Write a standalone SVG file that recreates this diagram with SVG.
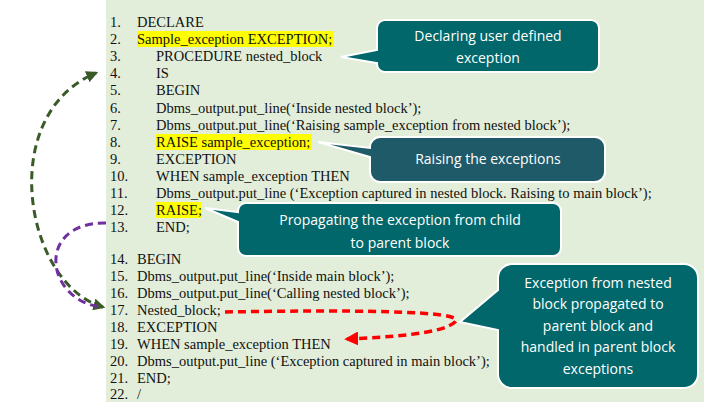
<svg xmlns="http://www.w3.org/2000/svg" width="704" height="402" viewBox="0 0 704 402">
<defs>
<style>
.c{font-family:"Liberation Serif",serif;font-size:14.5px;fill:#111}
.t{font-family:"Open Sans","Liberation Sans",sans-serif;font-size:14px;fill:#fff;text-anchor:middle}
.hl{fill:#ffff00}
.bub{stroke:#fff;stroke-width:2}
</style>
<marker id="ag" viewBox="0 0 10 10" refX="8" refY="5" markerWidth="4" markerHeight="4" orient="auto-start-reverse"><path d="M0,0L10,5L0,10z" fill="#3a5a28"/></marker>
<marker id="ap" viewBox="0 0 10 10" refX="8" refY="5" markerWidth="4" markerHeight="4" orient="auto"><path d="M0,0L10,5L0,10z" fill="#7030a0"/></marker>
<marker id="ar" viewBox="0 0 10 10" refX="8" refY="5" markerWidth="4" markerHeight="4" orient="auto"><path d="M0,0L10,5L0,10z" fill="#ff0000"/></marker>
</defs>
<rect width="704" height="402" fill="#fff"/>
<rect x="106" y="0" width="598" height="402" fill="#e2eed9"/>
<rect class="hl" x="137" y="31" width="197" height="16"/>
<rect class="hl" x="156" y="134" width="156" height="16"/>
<rect class="hl" x="156" y="202" width="45" height="16"/>
<g id="code" class="c">
<text x="110" y="27">1.</text><text x="137" y="27">DECLARE</text>
<text x="110" y="44">2.</text><text x="137" y="44">Sample_exception EXCEPTION;</text>
<text x="110" y="61">3.</text><text x="156" y="61">PROCEDURE nested_block</text>
<text x="110" y="78">4.</text><text x="156" y="78">IS</text>
<text x="110" y="95">5.</text><text x="156" y="95">BEGIN</text>
<text x="110" y="113">6.</text><text x="156" y="113">Dbms_output.put_line(‘Inside nested block’);</text>
<text x="110" y="130">7.</text><text x="156" y="130">Dbms_output.put_line(‘Raising sample_exception from nested block’);</text>
<text x="110" y="147">8.</text><text x="156" y="147">RAISE sample_exception;</text>
<text x="110" y="164">9.</text><text x="156" y="164">EXCEPTION</text>
<text x="110" y="181">10.</text><text x="156" y="181">WHEN sample_exception THEN</text>
<text x="110" y="198">11.</text><text x="156" y="198">Dbms_output.put_line (‘Exception captured in nested block. Raising to main block’);</text>
<text x="110" y="215">12.</text><text x="156" y="215">RAISE;</text>
<text x="110" y="232">13.</text><text x="156" y="232">END;</text>
<text x="110" y="264">14.</text><text x="137" y="264">BEGIN</text>
<text x="110" y="281">15.</text><text x="137" y="281">Dbms_output.put_line(‘Inside main block’);</text>
<text x="110" y="298">16.</text><text x="137" y="298">Dbms_output.put_line(‘Calling nested block’);</text>
<text x="110" y="315">17.</text><text x="137" y="315">Nested_block;</text>
<text x="110" y="332">18.</text><text x="137" y="332">EXCEPTION</text>
<text x="110" y="349">19.</text><text x="137" y="349">WHEN sample_exception THEN</text>
<text x="110" y="366">20.</text><text x="137" y="366">Dbms_output.put_line (‘Exception captured in main block’);</text>
<text x="110" y="383">21.</text><text x="137" y="383">END;</text>
<text x="110" y="399">22.</text><text x="137" y="399">/</text>
</g>
<g id="callout1">
<path class="bub" fill="#02676a" d="M385,20H591a8,8 0 0 1 8,8V64a8,8 0 0 1-8,8H385a8,8 0 0 1-8-8V63L341,57L377,50V28a8,8 0 0 1 8-8z"/>
<text class="t" x="488" y="41">Declaring user defined</text>
<text class="t" x="488" y="63">exception</text>
</g>
<g id="callout2">
<path class="bub" fill="#1f5a68" d="M380,137H595a10,10 0 0 1 10,10V172a10,10 0 0 1-10,10H380a10,10 0 0 1-10-10V157L318,142L370,148V147a10,10 0 0 1 10-10z"/>
<text class="t" x="488" y="164">Raising the exceptions</text>
</g>
<g id="callout3">
<path class="bub" fill="#02676a" d="M246,203H553a8,8 0 0 1 8,8V248a8,8 0 0 1-8,8H246a8,8 0 0 1-8-8V222L205,208L238,212V211a8,8 0 0 1 8-8z"/>
<text class="t" x="400" y="225">Propagating the exception from child</text>
<text class="t" x="400" y="248">to parent block</text>
</g>
<g id="callout4">
<path class="bub" fill="#02676a" d="M512,264H684a14,14 0 0 1 14,14V374a14,14 0 0 1-14,14H512a14,14 0 0 1-14-14V330L460,322L498,290V278a14,14 0 0 1 14-14z"/>
<text class="t" x="598" y="288">Exception from nested</text>
<text class="t" x="598" y="309">block propagated to</text>
<text class="t" x="598" y="331">parent block and</text>
<text class="t" x="598" y="352">handled in parent block</text>
<text class="t" x="598" y="374">exceptions</text>
</g>
<g id="connectors" fill="none" stroke-dasharray="8,5">
<path d="M103,307C25,285 -5,115 96,73" stroke="#3a5a28" stroke-width="3" marker-start="url(#ag)" marker-end="url(#ag)"/>
<path d="M106,223C35,222 45,300 101,307" stroke="#7030a0" stroke-width="3"/>
<path d="M225,312C340,310 470,310 455,322C442,334 390,337 347,339" stroke="#ff0000" stroke-width="3.5" marker-end="url(#ar)"/>
</g>
</svg>
